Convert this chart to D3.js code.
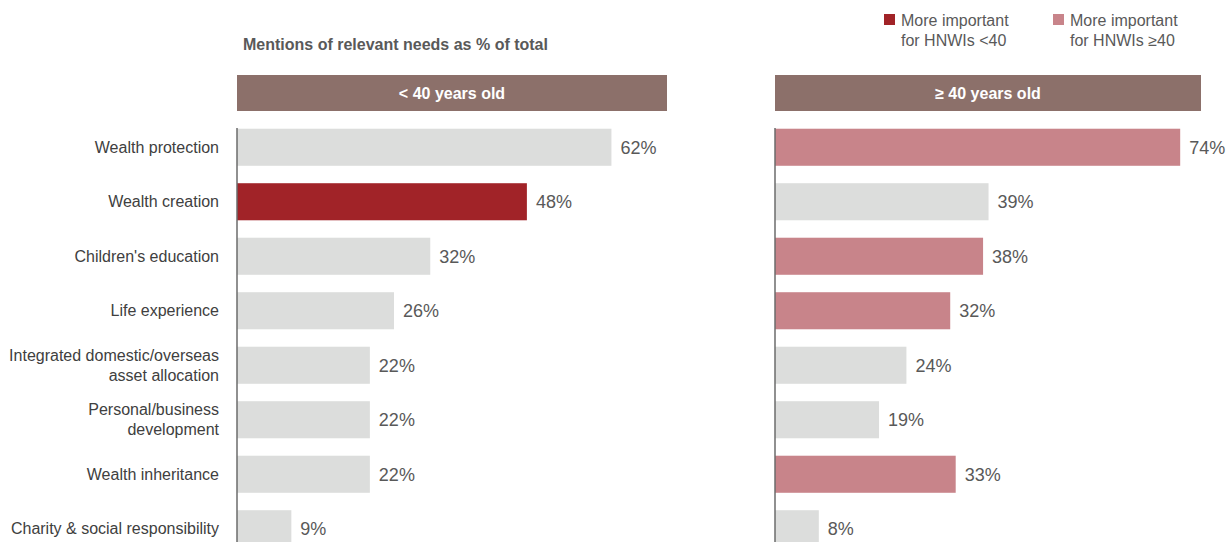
<!DOCTYPE html>
<html>
<head>
<meta charset="utf-8">
<script src="https://cdn.jsdelivr.net/npm/d3@7"></script>
<style>
  html, body { margin: 0; padding: 0; background: #fff; }
  svg { display: block; font-family: Arial, "Liberation Sans", sans-serif; }
</style>
</head>
<body>
<svg id="chart" width="1232" height="542"></svg>
<script>
// Needs, in display order
const categories = [
  ["Wealth protection"],
  ["Wealth creation"],
  ["Children's education"],
  ["Life experience"],
  ["Integrated domestic/overseas", "asset allocation"],
  ["Personal/business", "development"],
  ["Wealth inheritance"],
  ["Charity & social responsibility"]
];
// Share of mentions (%)
const under40 = [62, 48, 32, 26, 22, 22, 22, 9];
const over40  = [74, 39, 38, 32, 24, 19, 33, 8];
// Which group a need matters more to: 0 = neither, 1 = <40, 2 = ≥40
const emphasisUnder40 = [0, 1, 0, 0, 0, 0, 0, 0];
const emphasisOver40  = [2, 0, 2, 2, 0, 0, 2, 0];
const panelTitles = ["< 40 years old", "\u2265 40 years old"];
const legendLabels = [["More important", "for HNWIs <40"], ["More important", "for HNWIs \u226540"]];

const colors = { 0: "#dcdddc", 1: "#a12328", 2: "#c8848a" };
const headerColor = "#8c706a";
const textColor = "#595959";

const svg = d3.select("#chart");

const y = d3.scaleBand()
  .domain(d3.range(categories.length))
  .range([120, 556])
  .paddingInner(0.32)
  .paddingOuter(0.16);

const panels = [
  { values: under40, emph: emphasisUnder40, x0: 237, width: 430, max: 71.2, title: panelTitles[0] },
  { values: over40,  emph: emphasisOver40,  x0: 775, width: 426, max: 77.8, title: panelTitles[1] }
];

// Chart subtitle
svg.append("text")
  .attr("x", 243).attr("y", 50)
  .attr("font-size", 16).attr("font-weight", "bold")
  .attr("fill", textColor)
  .text("Mentions of relevant needs as % of total");

// Category labels
const catG = svg.append("g");
categories.forEach((lines, i) => {
  const cy = y(i) + y.bandwidth() / 2;
  const t = catG.append("text")
    .attr("text-anchor", "end")
    .attr("font-size", 16)
    .attr("fill", "#404040");
  const lh = 20;
  lines.forEach((ln, j) => {
    t.append("tspan")
      .attr("x", 219)
      .attr("y", cy + 5.5 + (j - (lines.length - 1) / 2) * lh)
      .text(ln);
  });
});

panels.forEach(p => {
  const x = d3.scaleLinear().domain([0, p.max]).range([p.x0, p.x0 + p.width]);
  const g = svg.append("g");

  // Header band
  g.append("rect")
    .attr("x", p.x0).attr("y", 75)
    .attr("width", p.width).attr("height", 36)
    .attr("fill", headerColor);
  g.append("text")
    .attr("x", p.x0 + p.width / 2).attr("y", 99)
    .attr("text-anchor", "middle")
    .attr("font-size", 16).attr("font-weight", "bold")
    .attr("fill", "#fff")
    .text(p.title);

  // Bars
  g.selectAll("rect.bar")
    .data(p.values)
    .join("rect")
    .attr("class", "bar")
    .attr("x", x(0))
    .attr("y", (d, i) => y(i))
    .attr("width", d => x(d) - x(0))
    .attr("height", y.bandwidth())
    .attr("fill", (d, i) => colors[p.emph[i]]);

  // Value labels
  g.selectAll("text.val")
    .data(p.values)
    .join("text")
    .attr("class", "val")
    .attr("x", d => x(d) + 9)
    .attr("y", (d, i) => y(i) + y.bandwidth() / 2 + 6.5)
    .attr("font-size", 18)
    .attr("fill", textColor)
    .text(d => d + "%");

  // Baseline
  g.append("line")
    .attr("x1", x(0)).attr("x2", x(0))
    .attr("y1", 128).attr("y2", 542)
    .attr("stroke", "#6b6b6b").attr("stroke-width", 1.5);
});

// Legend
const legend = [
  { x: 884, color: colors[1], lines: legendLabels[0] },
  { x: 1053, color: colors[2], lines: legendLabels[1] }
];
legend.forEach(l => {
  svg.append("rect")
    .attr("x", l.x).attr("y", 14)
    .attr("width", 11).attr("height", 11)
    .attr("fill", l.color);
  const t = svg.append("text").attr("font-size", 16).attr("fill", textColor);
  l.lines.forEach((ln, j) => {
    t.append("tspan").attr("x", l.x + 17).attr("y", 26 + j * 20).text(ln);
  });
});
</script>
</body>
</html>
